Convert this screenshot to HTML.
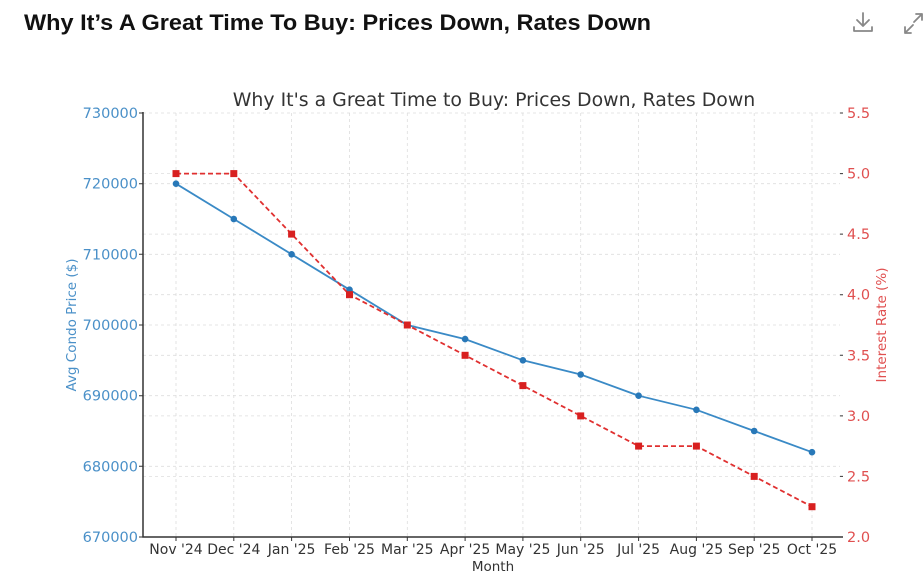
<!DOCTYPE html>
<html><head><meta charset="utf-8"><style>
body{margin:0;background:#fff;width:924px;height:575px;overflow:hidden;font-family:"DejaVu Sans",sans-serif}
</style></head><body>
<svg width="924" height="575" xmlns="http://www.w3.org/2000/svg">
<text x="24" y="30" font-family="Liberation Sans, sans-serif" font-weight="bold" font-size="22" fill="#111" textLength="627" lengthAdjust="spacingAndGlyphs">Why It’s A Great Time To Buy: Prices Down, Rates Down</text>
<g fill="none" stroke="#888" stroke-width="1.8" stroke-linecap="round" stroke-linejoin="round">
<path d="M863 13v13M857 20l6 6 6-6M854 27v4h18v-4"/>
<path d="M905 33l8-8M905 27v6h6M914 22l8-8M916 14h6v6"/>
</g>
<text x="494" y="106" text-anchor="middle" font-size="18.9" fill="#333">Why It's a Great Time to Buy: Prices Down, Rates Down</text>
<g stroke="#ddd" stroke-width="0.8" stroke-dasharray="3,3">
<path d="M143 113H840M143 183.7H840M143 254.3H840M143 325H840M143 395.7H840M143 466.3H840"/>
<path d="M143 173.6H840M143 234.1H840M143 294.7H840M143 355.3H840M143 415.9H840M143 476.4H840"/>
<path d="M176 113V537M233.8 113V537M291.6 113V537M349.5 113V537M407.3 113V537M465.1 113V537M522.9 113V537M580.7 113V537M638.6 113V537M696.4 113V537M754.2 113V537M812 113V537"/>
</g>
<path d="M143 112V537H843" stroke="#333" stroke-width="1.5" fill="none"/>
<g stroke="#333" stroke-width="1">
<path d="M139 113h4M139 183.7h4M139 254.3h4M139 325h4M139 395.7h4M139 466.3h4M139 537h4"/>
<path d="M840 113h3M840 173.6h3M840 234.1h3M840 294.7h3M840 355.3h3M840 415.9h3M840 476.4h3M840 537h3"/>
<path d="M176 537v4M233.8 537v4M291.6 537v4M349.5 537v4M407.3 537v4M465.1 537v4M522.9 537v4M580.7 537v4M638.6 537v4M696.4 537v4M754.2 537v4M812 537v4"/>
</g>
<g font-size="14.5" fill="#4a90c8" text-anchor="end">
<text x="138" y="118">730000</text><text x="138" y="188.7">720000</text><text x="138" y="259.3">710000</text><text x="138" y="330">700000</text><text x="138" y="400.7">690000</text><text x="138" y="471.3">680000</text><text x="138" y="542">670000</text>
</g>
<g font-size="14.5" fill="#e05050">
<text x="847" y="118">5.5</text><text x="847" y="178.6">5.0</text><text x="847" y="239.1">4.5</text><text x="847" y="299.7">4.0</text><text x="847" y="360.3">3.5</text><text x="847" y="420.9">3.0</text><text x="847" y="481.4">2.5</text><text x="847" y="542">2.0</text>
</g>
<g font-size="14" fill="#333" text-anchor="middle">
<text x="176" y="554">Nov '24</text><text x="233.8" y="554">Dec '24</text><text x="291.6" y="554">Jan '25</text><text x="349.5" y="554">Feb '25</text><text x="407.3" y="554">Mar '25</text><text x="465.1" y="554">Apr '25</text><text x="522.9" y="554">May '25</text><text x="580.7" y="554">Jun '25</text><text x="638.6" y="554">Jul '25</text><text x="696.4" y="554">Aug '25</text><text x="754.2" y="554">Sep '25</text><text x="812" y="554">Oct '25</text>
<text x="493" y="571" font-size="13.5">Month</text>
</g>
<text transform="translate(76 325) rotate(-90)" font-size="13.5" fill="#4a90c8" text-anchor="middle">Avg Condo Price ($)</text>
<text transform="translate(886 325) rotate(-90)" font-size="13.5" fill="#e05050" text-anchor="middle">Interest Rate (%)</text>
<polyline fill="none" stroke="#3a8ac6" stroke-width="1.8" points="176,183.7 233.8,219 291.6,254.3 349.5,289.7 407.3,325 465.1,339.1 522.9,360.3 580.7,374.5 638.6,395.7 696.4,409.8 754.2,431 812,452.2"/>
<g fill="#2878b8">
<circle cx="176" cy="183.7" r="3.3"/><circle cx="233.8" cy="219" r="3.3"/><circle cx="291.6" cy="254.3" r="3.3"/><circle cx="349.5" cy="289.7" r="3.3"/><circle cx="407.3" cy="325" r="3.3"/><circle cx="465.1" cy="339.1" r="3.3"/><circle cx="522.9" cy="360.3" r="3.3"/><circle cx="580.7" cy="374.5" r="3.3"/><circle cx="638.6" cy="395.7" r="3.3"/><circle cx="696.4" cy="409.8" r="3.3"/><circle cx="754.2" cy="431" r="3.3"/><circle cx="812" cy="452.2" r="3.3"/>
</g>
<polyline fill="none" stroke="#e03030" stroke-width="1.8" stroke-dasharray="5,3" points="176,173.6 233.8,173.6 291.6,234.1 349.5,294.7 407.3,325 465.1,355.3 522.9,385.6 580.7,415.9 638.6,446.1 696.4,446.1 754.2,476.4 812,506.7"/>
<g fill="#d82020">
<rect x="172.5" y="170.1" width="7" height="7"/><rect x="230.3" y="170.1" width="7" height="7"/><rect x="288.1" y="230.6" width="7" height="7"/><rect x="346" y="291.2" width="7" height="7"/><rect x="403.8" y="321.5" width="7" height="7"/><rect x="461.6" y="351.8" width="7" height="7"/><rect x="519.4" y="382.1" width="7" height="7"/><rect x="577.2" y="412.4" width="7" height="7"/><rect x="635.1" y="442.6" width="7" height="7"/><rect x="692.9" y="442.6" width="7" height="7"/><rect x="750.7" y="472.9" width="7" height="7"/><rect x="808.5" y="503.2" width="7" height="7"/>
</g>
</svg>
</body></html>
